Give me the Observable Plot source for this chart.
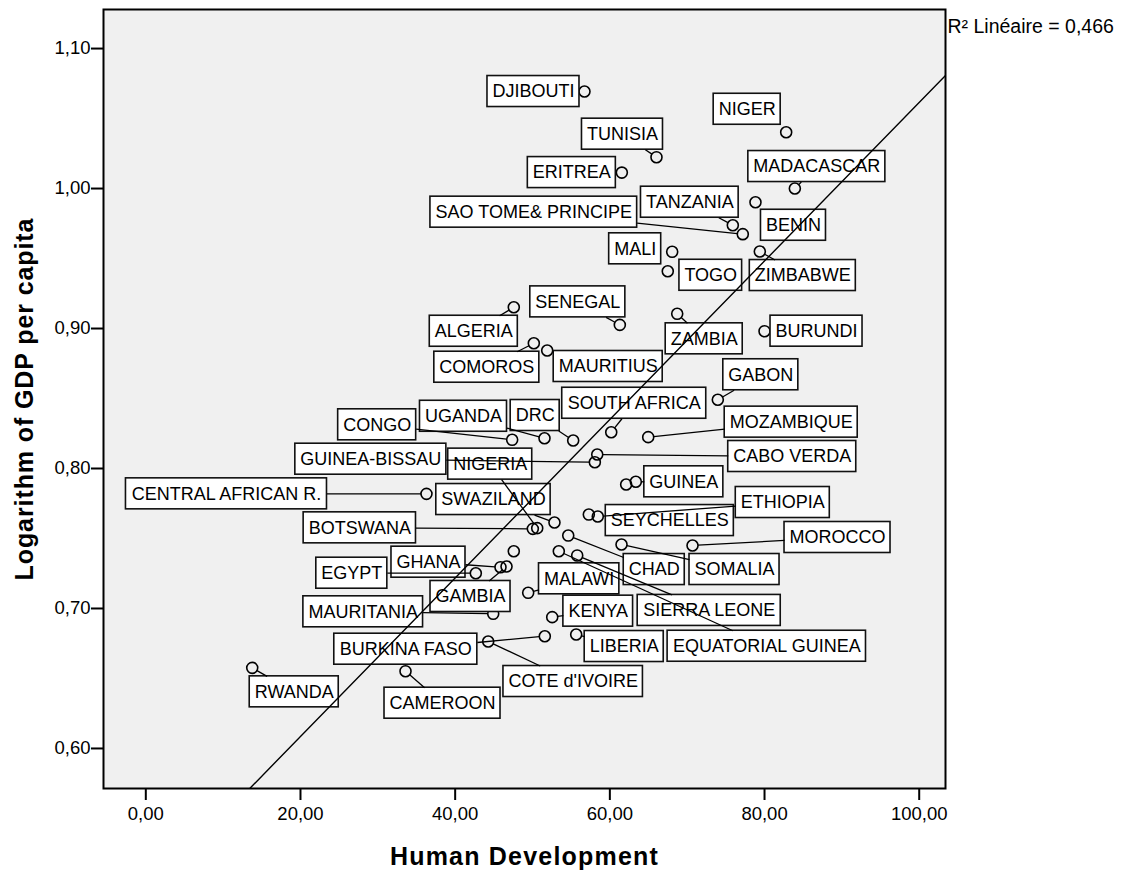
<!DOCTYPE html>
<html>
<head>
<meta charset="utf-8">
<script src="https://cdn.jsdelivr.net/npm/d3@7"></script>
<script src="https://cdn.jsdelivr.net/npm/@observablehq/plot@0.6"></script>
<style>
  html, body { margin: 0; padding: 0; background: #ffffff; }
  #chart { width: 1126px; height: 871px; }
  .xtitle text { letter-spacing: 1.2px; }
  .ytitle text { letter-spacing: 0.9px; }
</style>
</head>
<body>
<div id="chart"></div>
<script>
// ---------------- DATA ----------------
const countries = ["DJIBOUTI","NIGER","TUNISIA","ERITREA","MADACASCAR","TANZANIA","BENIN","SAO TOME& PRINCIPE","MALI","TOGO","ZIMBABWE","ALGERIA","SENEGAL","ZAMBIA","BURUNDI","COMOROS","MAURITIUS","GABON","SOUTH AFRICA","MOZAMBIQUE","DRC","UGANDA","CONGO","CABO VERDA","GUINEA-BISSAU","CENTRAL AFRICAN R.","SWAZILAND","BOTSWANA","NIGERIA","GUINEA","","SEYCHELLES","ETHIOPIA","CHAD","SOMALIA","MOROCCO","","EQUATORIAL GUINEA","SIERRA LEONE","GHANA","GAMBIA","EGYPT","MALAWI","KENYA","MAURITANIA","LIBERIA","BURKINA FASO","COTE d'IVOIRE","RWANDA","CAMEROON"];
const humanDev = [56.72,82.80,66.03,61.55,83.92,75.90,78.83,77.19,68.06,67.49,79.39,47.58,61.29,68.71,80.00,50.17,51.90,73.96,60.18,64.96,55.26,51.55,47.37,58.37,58.06,36.29,52.84,50.04,50.61,63.36,62.11,57.28,58.44,54.62,61.51,70.69,47.58,53.40,55.78,45.86,46.64,42.67,49.44,52.55,44.92,55.65,51.59,44.27,13.76,33.58];
const logGdp = [1.0693,1.0402,1.0224,1.0114,1.0000,0.9738,0.9902,0.9674,0.9548,0.9409,0.9550,0.9152,0.9026,0.9105,0.8981,0.8895,0.8843,0.8491,0.8259,0.8224,0.8200,0.8216,0.8205,0.8100,0.8045,0.7819,0.7614,0.7569,0.7574,0.7905,0.7886,0.7671,0.7657,0.7521,0.7457,0.7450,0.7409,0.7409,0.7379,0.7295,0.7300,0.7252,0.7112,0.6938,0.6962,0.6814,0.6802,0.6764,0.6576,0.6552];
const xTicks = [0, 20, 40, 60, 80, 100];
const yTicks = [0.6, 0.7, 0.8, 0.9, 1.0, 1.1];
const fitIntercept = 0.4953;
const fitSlope = 0.005662;
const r2 = 0.466;
const xTitle = "Human Development";
const yTitle = "Logarithm of GDP per capita";

// ---------------- LAYOUT (label placement: px offset from point, leader flag) ----------------
const labelLayout = {
  "DJIBOUTI":[-51,0,0], "NIGER":[-39,-23,0], "TUNISIA":[-34,-23,1], "ERITREA":[-50,0,0],
  "MADACASCAR":[22,-22,1], "TANZANIA":[-43,-23,1], "BENIN":[38,23,0], "SAO TOME& PRINCIPE":[-209,-22,1],
  "MALI":[-37,-3,0], "TOGO":[43,4,0], "ZIMBABWE":[43,24,1], "ALGERIA":[-40,24,1],
  "SENEGAL":[-42,-23,1], "ZAMBIA":[27,25,1], "BURUNDI":[52,0,0], "COMOROS":[-47,24,1],
  "MAURITIUS":[61,16,1], "GABON":[43,-25,1], "SOUTH AFRICA":[23,-29,1], "MOZAMBIQUE":[143,-15,1],
  "DRC":[-38,-25,1], "UGANDA":[-81,-22,1], "CONGO":[-135,-15,1], "CABO VERDA":[195,2,1],
  "GUINEA-BISSAU":[-224,-3,1], "CENTRAL AFRICAN R.":[-200,0,1], "SWAZILAND":[-61,-23,1], "BOTSWANA":[-173,-1,1],
  "NIGERIA":[-47,-64,1], "GUINEA":[48,0,1], "SEYCHELLES":[81,6,0], "ETHIOPIA":[185,-14,1],
  "CHAD":[86,34,1], "SOMALIA":[113,25,1], "MOROCCO":[145,-8,1], "EQUATORIAL GUINEA":[208,95,1],
  "SIERRA LEONE":[132,55,1], "GHANA":[-72,-5,1], "GAMBIA":[-36,30,1], "EGYPT":[-124,0,1],
  "MALAWI":[51,-14,1], "KENYA":[46,-6,1], "MAURITANIA":[-130,-2,1], "LIBERIA":[48,12,1],
  "BURKINA FASO":[-139,13,1], "COTE d'IVOIRE":[85,40,1], "RWANDA":[42,24,1], "CAMEROON":[37,32,1]
};

const W = 1126, H = 871;
const margin = {left: 103, right: 181, top: 9, bottom: 83};
const xDomain = [-5.47, 103.40];
const yDomain = [0.5714, 1.1279];
const FONT = "'Liberation Sans', Arial, Helvetica, sans-serif";
const labelSize = 18, boxPad = 5, boxH = 31, dotR = 5.5;

const xs = Plot.scale({x: {domain: xDomain, range: [margin.left, W - margin.right]}});
const ys = Plot.scale({y: {domain: yDomain, range: [H - margin.bottom, margin.top]}});

const ctx = document.createElement("canvas").getContext("2d");
ctx.font = `${labelSize}px ${FONT}`;

const rows = countries.map((name, i) => ({name, hd: humanDev[i], lg: logGdp[i]}));
const boxes = [], leaders = [];
rows.forEach(r => {
  if (!r.name || !labelLayout[r.name]) return;
  const [dx, dy, lead] = labelLayout[r.name];
  const px = xs.apply(r.hd), py = ys.apply(r.lg);
  const cx = px + dx, cy = py + dy;
  const hw = ctx.measureText(r.name).width / 2 + boxPad, hh = boxH / 2;
  boxes.push({name: r.name,
    x1: xs.invert(cx - hw), x2: xs.invert(cx + hw),
    y1: ys.invert(cy - hh), y2: ys.invert(cy + hh),
    xc: xs.invert(cx), yc: ys.invert(cy)});
  if (lead) {
    const len = Math.hypot(dx, dy);
    const s = Math.min(Math.abs(dx) > 1e-9 ? hw / Math.abs(dx) : Infinity,
                       Math.abs(dy) > 1e-9 ? hh / Math.abs(dy) : Infinity);
    if (s < 1 && len * (1 - s) > dotR) {
      const ux = dx / len, uy = dy / len;
      leaders.push({
        sx: xs.invert(px + ux * dotR), sy: ys.invert(py + uy * dotR),
        ex: xs.invert(cx - dx * s), ey: ys.invert(cy - dy * s)
      });
    }
  }
});

const fmt = d => d.toFixed(2).replace(".", ",");

const chart = Plot.plot({
  width: W, height: H,
  marginLeft: margin.left, marginRight: margin.right, marginTop: margin.top, marginBottom: margin.bottom,
  x: {domain: xDomain},
  y: {domain: yDomain},
  style: {fontFamily: FONT, fontSize: "18px", background: "#ffffff", color: "#000000", overflow: "visible"},
  marks: [
    Plot.frame({fill: "#f0f0f0", stroke: "none"}),
    Plot.dot(rows, {x: "hd", y: "lg", r: dotR, stroke: "#000", strokeWidth: 1.6, fill: "none"}),
    Plot.rect(boxes, {x1: "x1", x2: "x2", y1: "y1", y2: "y2", fill: "#ffffff", stroke: "#111", strokeWidth: 1.6}),
    Plot.text(boxes, {x: "xc", y: "yc", text: "name", fontSize: labelSize, fill: "#000", textAnchor: "middle", lineAnchor: "middle"}),
    Plot.link(leaders, {x1: "sx", y1: "sy", x2: "ex", y2: "ey", stroke: "#000", strokeWidth: 1.3}),
    Plot.line(xDomain, {x: d => d, y: d => fitIntercept + fitSlope * d, stroke: "#000", strokeWidth: 1.4, clip: true}),
    Plot.frame({stroke: "#000", strokeWidth: 2}),
    Plot.axisX(xTicks, {tickSize: 12, tickPadding: 6, tickFormat: fmt, fontSize: 18.5, strokeWidth: 2, label: null}),
    Plot.axisY(yTicks, {tickSize: 12, tickPadding: 1, tickFormat: fmt, fontSize: 18.5, strokeWidth: 2, label: null}),
    Plot.text([xTitle], {frameAnchor: "bottom", text: d => d, dy: 68, fontSize: 25, fontWeight: "bold", lineAnchor: "middle", textAnchor: "middle", fill: "#000", className: "xtitle"}),
    Plot.text([yTitle], {frameAnchor: "left", text: d => d, rotate: -90, dx: -79, fontSize: 25, fontWeight: "bold", lineAnchor: "middle", textAnchor: "middle", fill: "#000", className: "ytitle"}),
    Plot.text([r2], {frameAnchor: "top-right", text: d => `R² Linéaire = ${d.toFixed(3).replace(".", ",")}`, dx: 2, dy: 17, fontSize: 19.5, textAnchor: "start", lineAnchor: "middle", fill: "#000"})
  ]
});
document.getElementById("chart").appendChild(chart);
</script>
</body>
</html>
